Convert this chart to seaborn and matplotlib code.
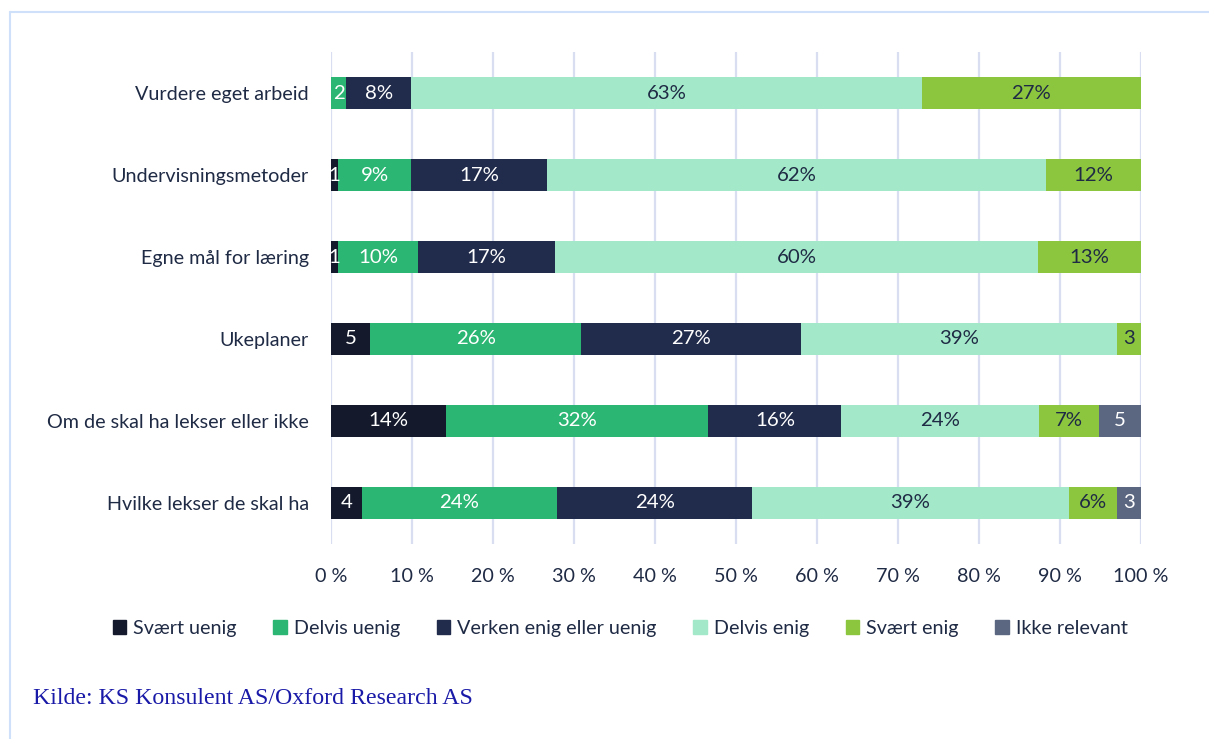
import matplotlib.pyplot as plt
import matplotlib.patches as mpatches
from matplotlib.lines import Line2D
import seaborn as sns
import pandas as pd
import numpy as np

# data (andeler i prosent, lest av figuren)
kategorier = ["Vurdere eget arbeid", "Undervisningsmetoder", "Egne mål for læring",
              "Ukeplaner", "Om de skal ha lekser eller ikke", "Hvilke lekser de skal ha"]
svaert_uenig = [0.0, 0.9, 0.9, 4.8, 14.2, 3.8]
delvis_uenig = [1.9, 9.0, 9.8, 26.1, 32.4, 24.1]
verken = [8.0, 16.8, 17.0, 27.1, 16.4, 24.1]
delvis_enig = [63.0, 61.6, 59.6, 39.0, 24.4, 39.1]
svaert_enig = [27.1, 11.7, 12.7, 3.0, 7.4, 5.9]
ikke_relevant = [0.0, 0.0, 0.0, 0.0, 5.2, 3.0]

serier = ["Svært uenig", "Delvis uenig", "Verken enig eller uenig",
          "Delvis enig", "Svært enig", "Ikke relevant"]
farger = ["#141a2c", "#2bb673", "#212b4b", "#a3e9c9", "#8cc63f", "#5b6781"]
tekstfarge = ["white", "white", "white", "#1f2a44", "#1f2a44", "white"]
x_ticks = list(range(0, 101, 10))

df = pd.DataFrame({"Kategori": kategorier, "Svært uenig": svaert_uenig,
                   "Delvis uenig": delvis_uenig, "Verken enig eller uenig": verken,
                   "Delvis enig": delvis_enig, "Svært enig": svaert_enig,
                   "Ikke relevant": ikke_relevant})
kum = df[serier].cumsum(axis=1)

sns.set_theme(style="white")
plt.rcParams['font.family'] = ['Lato', 'DejaVu Sans']
navy = "#1f2a44"
fs = 14.2

fig = plt.figure(figsize=(12.09, 7.39), dpi=100)
ax = fig.add_axes([0.2738, 0.2639, 0.6700, 0.6657])

# stablet: tegn kumulative summer fra høyre mot venstre
for i in range(len(serier) - 1, -1, -1):
    sns.barplot(x=kum[serier[i]], y=df["Kategori"], orient="h", color=farger[i],
                width=0.4, ax=ax, saturation=1, linewidth=0, zorder=2)

# etiketter
for i, s in enumerate(serier):
    for j in range(len(kategorier)):
        v = df[s][j]
        if v <= 0:
            continue
        midt = kum[s][j] - v / 2
        n = round(v)
        tekst = f"{n}%" if n >= 6 else f"{n}"
        ax.text(midt, j, tekst, ha="center", va="center", color=tekstfarge[i],
                fontsize=fs + 0.5, zorder=3)

ax.set_xlim(0, 100)
ax.set_ylim(5.5, -0.5)
ax.set_xticks(x_ticks)
ax.set_xticklabels([f"{t} %" for t in x_ticks])
ax.set_xlabel("")
ax.set_ylabel("")
ax.grid(axis="x", color="#d9dff0", linewidth=1.6, zorder=0)
ax.set_axisbelow(True)
for sp in ax.spines.values():
    sp.set_visible(False)
ax.tick_params(axis="both", length=0, labelsize=fs, labelcolor=navy)
ax.tick_params(axis="y", pad=16)
ax.tick_params(axis="x", pad=17)

handles = [mpatches.Patch(color=c, label=s) for s, c in zip(serier, farger)]
fig.legend(handles=handles, loc="center", bbox_to_anchor=(0.513, 0.150), ncol=6,
           frameon=False, fontsize=fs, handlelength=0.7, handleheight=0.7,
           handletextpad=0.35, columnspacing=1.85, labelcolor=navy)

fig.text(0.027, 0.055, "Kilde: KS Konsulent AS/Oxford Research AS", family="Liberation Serif",
         fontsize=17.2, color="#1a1aa8", va="center", ha="left")

# ramme
fig.add_artist(Line2D([0.0083, 1.0], [0.9838, 0.9838], color="#cfe0fb", linewidth=1.5))
fig.add_artist(Line2D([0.0083, 0.0083], [0.0, 0.9838], color="#cfe0fb", linewidth=1.5))

fig.savefig("out.png", dpi=100)
